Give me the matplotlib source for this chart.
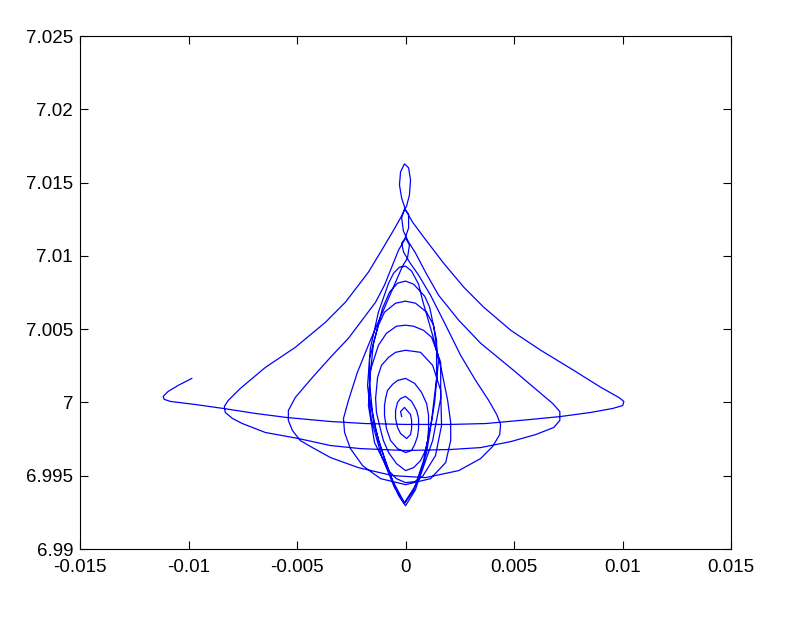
import numpy as np
import matplotlib
matplotlib.use('Agg')
import matplotlib.pyplot as plt

plt.rcParams['font.family'] = ['Liberation Sans', 'DejaVu Sans']
plt.rcParams['axes.unicode_minus'] = False

# Trajectory, in thousandths: x in 1e-3, y as (y - 7) in 1e-3
# first big swing (start point, left turn, low swing right, high swing back with top loop)
outer_x = [-9.85, -10.48, -10.94, -11.17, -11.12, -10.84, -9.69, -8.40, -6.92, -5.45,
           -3.46, -1.85, 0.00, 2.08, 3.69, 5.77, 7.15, 8.54, 9.55, 10.01,
           10.06, 9.83, 9.00, 7.75, 6.23, 4.85, 3.60, 2.68, 1.75, 0.83,
           0.32, 0.00, -0.18, -0.28, -0.23, -0.05, 0.14, 0.23, 0.18, 0.05,
           -0.23, -0.60, -1.15, -1.71, -2.77, -3.69, -5.08, -6.46, -7.61, -8.17,
           -8.35]
outer_y = [1.64, 1.16, 0.75, 0.41, 0.21, 0.07, -0.14, -0.41, -0.75, -1.03,
           -1.30, -1.44, -1.50, -1.50, -1.44, -1.16, -0.96, -0.68, -0.41, -0.21,
           0.07, 0.34, 1.03, 2.19, 3.56, 4.92, 6.50, 7.87, 9.51, 11.29,
           12.31, 13.13, 13.95, 14.84, 15.73, 16.28, 16.01, 15.18, 14.16, 13.41,
           12.59, 11.63, 10.26, 8.89, 6.84, 5.47, 3.76, 2.39, 0.96, 0.14,
           -0.27]

# second swing
swing2_x = [-8.31, -7.98, -7.52, -6.46, -4.94, -3.46, -2.08, 0.00, 2.08, 3.46,
            4.85, 6.00, 6.83, 7.11, 7.11, 6.78, 6.23, 4.98, 3.46, 2.45,
            1.52, 0.92, 0.46, 0.14, -0.10, -0.18, -0.05, 0.14, 0.14, -0.05,
            -0.32, -0.60, -0.97, -1.38, -2.63, -3.46, -4.29, -5.08, -5.40]
swing2_y = [-0.68, -1.09, -1.44, -2.05, -2.46, -2.94, -3.15, -3.28, -3.21, -3.08,
            -2.67, -2.19, -1.71, -1.23, -0.62, -0.07, 0.62, 2.19, 4.04, 5.61,
            7.32, 8.89, 10.19, 10.94, 11.70, 12.60, 13.20, 12.86, 11.90, 11.08,
            10.40, 9.37, 8.00, 6.84, 4.38, 3.08, 1.71, 0.34, -0.55]

# third swing
swing3_x = [-5.40, -5.21, -4.85, -4.29, -3.46, -2.17, -0.60, 0.92, 2.45, 3.46,
            4.01, 4.34, 4.38, 4.20, 3.83, 3.23, 2.54, 1.85, 1.15, 0.60,
            0.18, -0.09, -0.18, 0.00, 0.18, 0.09, -0.14, -0.42, -0.92, -1.62,
            -2.22, -2.63, -2.86]
swing3_y = [-1.23, -1.92, -2.60, -3.08, -3.76, -4.45, -4.99, -5.13, -4.65, -3.83,
            -3.01, -2.19, -1.50, -0.82, 0.14, 1.50, 3.21, 5.27, 7.32, 8.69,
            9.58, 10.26, 10.87, 11.22, 10.74, 9.85, 9.30, 8.34, 6.63, 4.24,
            2.05, 0.14, -1.09]

# narrow loops in the middle
mid_x = [-2.81, -2.54, -1.98, -1.15, 0.00, 1.15, 1.85, 2.08, 2.08, 1.94,
         1.66, 1.25, 0.78, 0.60, 0.28, 0.00, -0.28, -0.55, -0.78, -1.25,
         -1.62, -1.75, -1.57, -1.11, -0.51, -0.05,
         0.37, 0.83, 1.20, 1.43, 1.43, 1.11, 0.88, 0.37, 0.00, -0.37,
         -0.74, -1.06, -1.48, -1.66, -1.48, -0.92, -0.32, 0.00,
         0.46, 0.97, 1.34, 1.52, 1.29, 0.97, 0.46, 0.00, -0.46, -0.97,
         -1.25, -1.66, -1.66, -1.25, -0.60, -0.05,
         0.60, 1.25, 1.62, 1.62, 1.20, 0.83, 0.37, 0.00, -0.42, -0.88,
         -1.25, -1.62, -1.71, -1.43, -0.78, -0.42, 0.00, 0.42, 0.78, 1.38,
         1.66, 1.62, 1.25, 0.69, 0.00]
mid_y = [-2.05, -3.15, -4.31, -5.20, -5.61, -5.20, -4.10, -2.60, -1.37, 0.14,
         2.19, 4.58, 6.98, 8.07, 8.96, 9.30, 9.23, 8.82, 8.14, 6.16,
         3.69, 1.16, -1.23, -3.63, -5.81, -6.91,
         -6.02, -3.97, -1.23, 1.64, 4.24, 6.50, 7.25, 8.07, 8.28, 8.14,
         7.52, 6.43, 4.04, 1.37, -1.37, -4.10, -6.36, -7.05,
         -5.95, -3.42, 0.00, 2.87, 5.27, 6.16, 6.77, 6.91, 6.77, 6.16,
         5.27, 3.01, 0.27, -2.60, -5.34, -6.84,
         -5.34, -2.60, 0.27, 2.74, 4.45, 4.92, 5.20, 5.27, 5.20, 4.72,
         3.90, 2.19, -0.21, -2.74, -4.65, -5.20, -5.47, -5.40, -5.06, -3.63,
         -1.57, 0.82, 2.53, 3.42, 3.56]

# final spiral to rest
spiral_x = [-0.46, -0.78, -1.11, -1.29, -1.38, -1.34, -1.20, -1.02, -0.78, -0.42,
            0.00, 0.37, 0.69, 0.92, 1.02, 1.06, 1.06, 0.97, 0.74, 0.42,
            0.00, -0.37, -0.60, -0.83, -0.92, -0.97, -0.97, -0.88, -0.69, -0.37,
            0.00, 0.28, 0.42, 0.55, 0.60, 0.60, 0.51, 0.28, 0.00, -0.23,
            -0.37, -0.46, -0.46, -0.37, -0.23, 0.05, 0.23, 0.28, 0.28, 0.23,
            -0.05, -0.23, -0.18]
spiral_y = [3.42, 3.08, 2.53, 1.71, 0.27, -0.68, -1.57, -2.60, -3.42, -4.17,
            -4.65, -4.45, -3.97, -3.28, -2.60, -1.78, -0.89, -0.07, 0.68, 1.30,
            1.64, 1.50, 1.23, 0.82, 0.27, -0.21, -0.89, -1.78, -2.60, -3.15,
            -3.42, -3.28, -2.87, -2.33, -1.78, -1.09, -0.55, 0.07, 0.41, 0.27,
            0.00, -0.55, -1.09, -1.71, -2.12, -2.46, -2.19, -1.78, -1.23, -0.82,
            -0.34, -0.62, -0.96]

x_ticks = [-0.015, -0.01, -0.005, 0, 0.005, 0.01, 0.015]
y_ticks = [6.99, 6.995, 7, 7.005, 7.01, 7.015, 7.02, 7.025]

x = np.concatenate([outer_x, swing2_x, swing3_x, mid_x, spiral_x]) * 1e-3
y = 7 + np.concatenate([outer_y, swing2_y, swing3_y, mid_y, spiral_y]) * 1e-3

fig = plt.figure(figsize=(7.87, 6.2), dpi=100)
ax = fig.add_axes([0.1017, 0.1145, 0.8272, 0.8274])
ax.plot(x, y, color='#0000ff', linewidth=0.9)

ax.set_xlim(-0.015, 0.015)
ax.set_ylim(6.99, 7.025)
ax.set_xticks(x_ticks)
ax.set_yticks(y_ticks)
ax.set_xticklabels(['%g' % v for v in x_ticks])
ax.set_yticklabels(['%g' % v for v in y_ticks])
ax.tick_params(direction='in', length=5.5, width=0.8, labelsize=13.5,
               top=True, right=True, pad=5)
ax.tick_params(axis='x', pad=7)
for s in ax.spines.values():
    s.set_linewidth(0.8)

plt.savefig('out.png', dpi=100)
